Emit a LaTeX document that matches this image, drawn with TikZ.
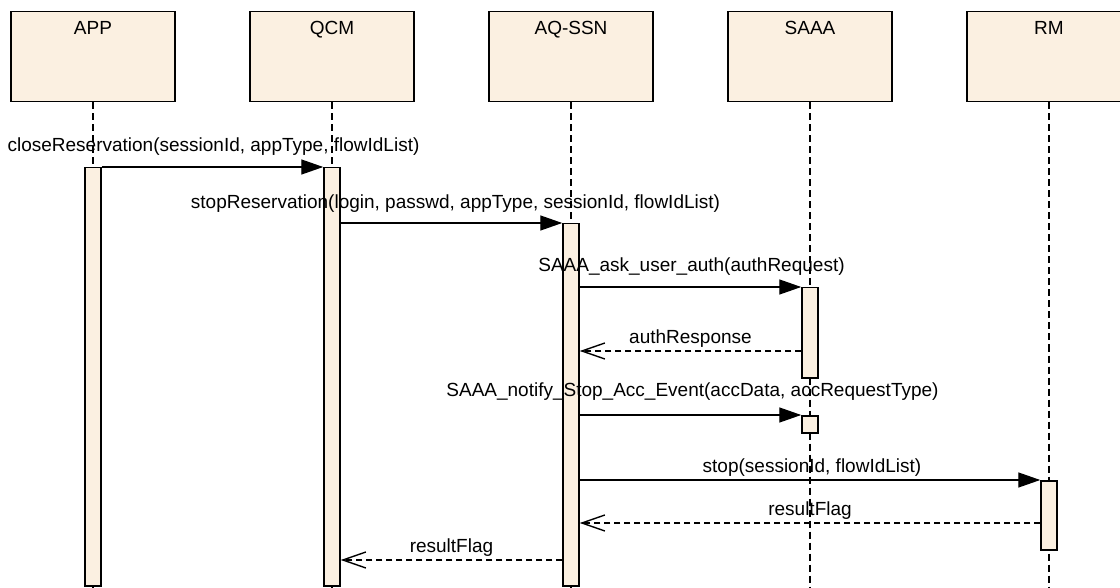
\documentclass[tikz,border=0pt]{standalone}
\usepackage{fontspec}
\setmainfont{Liberation Sans}
\usetikzlibrary{arrows.meta,calc}
\definecolor{boxfill}{RGB}{251,240,225}
\begin{document}
\begin{tikzpicture}[x=1pt,y=-1pt,
  font=\fontsize{19}{22}\selectfont,
  hdr/.style={draw=black, line width=1.5pt, fill=boxfill, minimum width=164pt,
    inner xsep=0pt, inner ysep=0pt, text height=23pt, text depth=67pt, anchor=north},
  actbar/.style={draw=black, line width=1.5pt, fill=boxfill, minimum width=16pt,
    inner sep=0pt, anchor=north},
  life/.style={line width=1.5pt, dash pattern=on 7pt off 4pt},
  call/.style={line width=1.4pt, -{Triangle[length=22pt,width=15pt]}},
  ret/.style={line width=1.4pt, dash pattern=on 6pt off 4pt, -{Straight Barb[length=23pt,width=16pt]}},
  lbl/.style={anchor=base, inner sep=0pt}
]
\useasboundingbox (0,0) rectangle (1120,588);
\fill[white] (0,0) rectangle (1120,588);
\begin{scope}
\clip (0,0) rectangle (1120,588);
% lifeline heads
\node[hdr] (app) at (93,11) {APP};
\node[hdr] (qcm) at (332,11) {QCM};
\node[hdr] (aq) at (571,11) {AQ-SSN};
\node[hdr] (saaa) at (810,11) {SAAA};
\node[hdr] (rm) at (1049,11) {RM};
% lifeline ends
\coordinate (append) at (93,590);
\coordinate (qcmend) at (332,590);
\coordinate (aqend) at (571,590);
\coordinate (saaaend) at (810,590);
\coordinate (rmend) at (1049,590);
\draw[life] (app.south) -- (append);
\draw[life] (qcm.south) -- (qcmend);
\draw[life] (aq.south) -- (aqend);
\draw[life] (saaa.south) -- (saaaend);
\draw[life] (rm.south) -- (rmend);
% activation bars
\node[actbar, minimum height=418pt] (appbar) at (93,167) {};
\node[actbar, minimum height=418pt] (qcmbar) at (332,167) {};
\node[actbar, minimum height=362pt] (aqbar) at (571,223) {};
\node[actbar, minimum height=90pt] (sabarA) at (810,287) {};
\node[actbar, minimum height=17pt] (sabarB) at (810,415) {};
\node[actbar, minimum height=69pt] (rmbar) at (1049,480) {};
% return levels
\coordinate (yA) at (0,351);
\coordinate (yB) at (0,523);
\coordinate (yC) at (0,560);
% messages
\draw[call] (appbar.north east) -- (qcmbar.north west)
  node[lbl, midway, yshift=15pt, xshift=1pt] (m1) {closeReservation(sessionId, appType, flowIdList)};
\draw[call] (qcmbar.east |- aqbar.north) -- (aqbar.north west)
  node[lbl, midway, yshift=14pt, xshift=4pt] (m2) {stopReservation(login, passwd, appType, sessionId, flowIdList)};
\draw[call] (aqbar.east |- sabarA.north) -- (sabarA.north west)
  node[lbl, midway, yshift=15pt, xshift=1pt] (m3) {SAAA\_ask\_user\_auth(authRequest)};
\draw[ret] (sabarA.west |- yA) -- (aqbar.east |- yA)
  node[lbl, midway, yshift=8pt] (m4) {authResponse};
\draw[call] (aqbar.east |- sabarB.north) -- (sabarB.north west)
  node[lbl, midway, yshift=19pt, xshift=2pt] (m5) {SAAA\_notify\_Stop\_Acc\_Event(accData, accRequestType)};
\draw[call] (aqbar.east |- rmbar.north) -- (rmbar.north west)
  node[lbl, midway, yshift=8pt, xshift=2pt] (m6) {stop(sessionId, flowIdList)};
\draw[ret] (rmbar.west |- yB) -- (aqbar.east |- yB)
  node[lbl, midway, yshift=8pt] (m7) {resultFlag};
\draw[ret] (aqbar.west |- yC) -- (qcmbar.east |- yC)
  node[lbl, midway, yshift=8pt] (m8) {resultFlag};
\end{scope}
\end{tikzpicture}
\end{document}
